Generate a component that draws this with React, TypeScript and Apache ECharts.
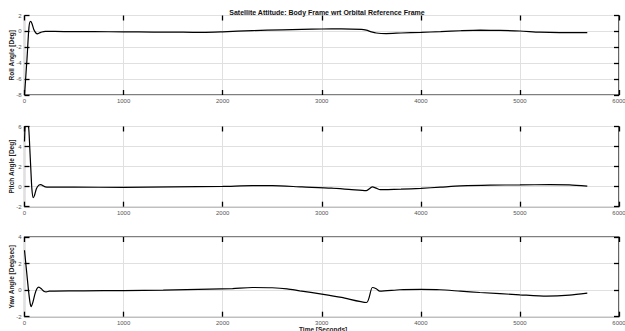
import React, { useEffect, useRef } from "react";
import * as echarts from "echarts";

const TITLE = "Satellite Attitude: Body Frame wrt Orbital Reference Frame";
const X_LABEL = "Time [Seconds]";
const PANEL_NAMES = ["Roll Angle [Deg]", "Pitch Angle [Deg]", "Yaw Angle [Deg/sec]"];
const Y_MIN = [-8, -2, -2];
const Y_MAX = [2, 6, 4];
const X_MIN = 0;
const X_MAX = 6000;
const X_STEP = 1000;
const Y_STEP = 2;

const roll: [number, number][] = [
  [0, -8], [25, -3.5], [45, 0.5], [60, 1.25], [75, 1.0], [95, 0.2], [115, -0.2], [130, -0.3],
  [150, -0.2], [175, -0.07], [210, 0], [400, -0.02], [700, -0.04], [1000, -0.05], [1300, -0.08],
  [1600, -0.1], [1800, -0.12], [2000, -0.05], [2300, 0.1], [2600, 0.2], [2800, 0.25], [3000, 0.3],
  [3200, 0.32], [3400, 0.25], [3450, 0.15], [3500, -0.05], [3550, -0.2], [3650, -0.27], [3800, -0.2],
  [4000, -0.12], [4200, -0.03], [4400, 0.08], [4600, 0.15], [4800, 0.12], [5000, 0.05], [5200, -0.1],
  [5400, -0.15], [5680, -0.15],
];

const pitch: [number, number][] = [
  [0, 4.5], [8, 6.3], [20, 6.6], [35, 6.4], [45, 5.5], [55, 3.5], [65, 1.5], [75, -0.3], [88, -1.1],
  [100, -0.9], [120, -0.2], [145, 0.15], [165, 0.2], [185, 0.1], [210, -0.03], [250, -0.05],
  [500, -0.05], [1000, -0.07], [1500, -0.02], [2000, 0.02], [2300, 0.1], [2500, 0.1], [2800, -0.03],
  [3100, -0.15], [3300, -0.3], [3450, -0.4], [3510, -0.03], [3550, -0.15], [3590, -0.3], [3800, -0.25],
  [4000, -0.17], [4200, -0.05], [4400, 0.07], [4700, 0.15], [5000, 0.17], [5300, 0.2], [5500, 0.18],
  [5680, 0.05],
];

const yaw: [number, number][] = [
  [0, 3], [20, 1.5], [40, 0], [55, -0.9], [67, -1.25], [85, -0.9], [105, -0.3], [125, 0.1],
  [145, 0.23], [170, 0.1], [195, -0.08], [219, -0.13], [250, -0.08], [300, -0.07], [600, -0.05],
  [1000, -0.03], [1400, 0], [1870, 0.07], [2100, 0.12], [2300, 0.2], [2500, 0.18], [2650, 0.1],
  [2778, -0.05], [3000, -0.3], [3200, -0.55], [3451, -0.93], [3511, 0.2], [3550, 0.1], [3586, -0.08],
  [3788, 0.03], [4000, 0.05], [4192, 0.03], [4400, -0.08], [4596, -0.18], [5000, -0.35],
  [5270, -0.45], [5500, -0.38], [5680, -0.23],
];

const SERIES = [roll, pitch, yaw];

export default function App() {
  const ref = useRef<HTMLDivElement>(null);
  useEffect(() => {
    if (!ref.current) return;
    const chart = echarts.init(ref.current, null, { renderer: "svg" });
    const font = "Liberation Sans, Arial, Helvetica, sans-serif";
    const tops = [15.5, 126.5, 237];
    const heights = [79.5, 80.2, 79.7];
    const grids = tops.map((t, i) => ({
      left: 24.5,
      right: 6,
      top: t,
      height: heights[i],
      show: true,
      borderColor: "#000",
      borderWidth: 1.2,
      backgroundColor: "transparent",
      containLabel: false,
      outerBoundsMode: "none",
    }));
    const tick = { show: true, inside: true, length: 5, lineStyle: { color: "#000", width: 1.3 } };
    const noLine = { show: false, onZero: false };
    const xAxes: any[] = [];
    const yAxes: any[] = [];
    for (let i = 0; i < 3; i++) {
      xAxes.push({
        type: "value", gridIndex: i, min: X_MIN, max: X_MAX, interval: X_STEP, position: "bottom",
        axisLine: noLine, axisTick: tick,
        axisLabel: { fontSize: 6, color: "#555", margin: 3, fontFamily: font, formatter: (v: number) => String(v) },
        splitLine: { show: true, lineStyle: { color: "#e0e0e0", width: 1 } },
      });
      xAxes.push({
        type: "value", gridIndex: i, min: X_MIN, max: X_MAX, interval: X_STEP, position: "top",
        axisLine: noLine, axisTick: tick, axisLabel: { show: false }, splitLine: { show: false },
      });
      yAxes.push({
        type: "value", gridIndex: i, min: Y_MIN[i], max: Y_MAX[i], interval: Y_STEP, position: "left",
        axisLine: noLine, axisTick: tick,
        axisLabel: { fontSize: 6, color: "#555", margin: 3, fontFamily: font, formatter: (v: number) => String(v) },
        splitLine: { show: true, lineStyle: { color: "#e0e0e0", width: 1 } },
        name: PANEL_NAMES[i], nameLocation: "middle", nameGap: 10, nameRotate: 90,
        nameMoveOverlap: false,
        nameTextStyle: { fontSize: 6.5, fontWeight: "bold", color: "#222", fontFamily: font },
      });
      yAxes.push({
        type: "value", gridIndex: i, min: Y_MIN[i], max: Y_MAX[i], interval: Y_STEP, position: "right",
        axisLine: noLine, axisTick: tick, axisLabel: { show: false }, splitLine: { show: false },
      });
    }
    chart.setOption({
      animation: false,
      title: {
        text: TITLE, left: 322, top: 4, textAlign: "center",
        textStyle: { fontSize: 7, fontWeight: "bold", color: "#111", fontFamily: font },
      },
      grid: grids,
      xAxis: xAxes,
      yAxis: yAxes,
      series: SERIES.map((d, i) => ({
        type: "line", xAxisIndex: i * 2, yAxisIndex: i * 2, data: d, showSymbol: false,
        smooth: 0.25, clip: true, lineStyle: { color: "#000", width: 1.2 },
      })),
      graphic: [
        {
          type: "text", left: 322 - 23, top: 325.5,
          style: { text: X_LABEL, fill: "#222", font: `bold 6.5px ${font}` },
        },
      ],
    });
    return () => chart.dispose();
  }, []);
  return (
    <div
      ref={ref}
      style={{ position: "fixed", left: 0, top: 0, width: 625, height: 331, background: "#fff" }}
    />
  );
}
